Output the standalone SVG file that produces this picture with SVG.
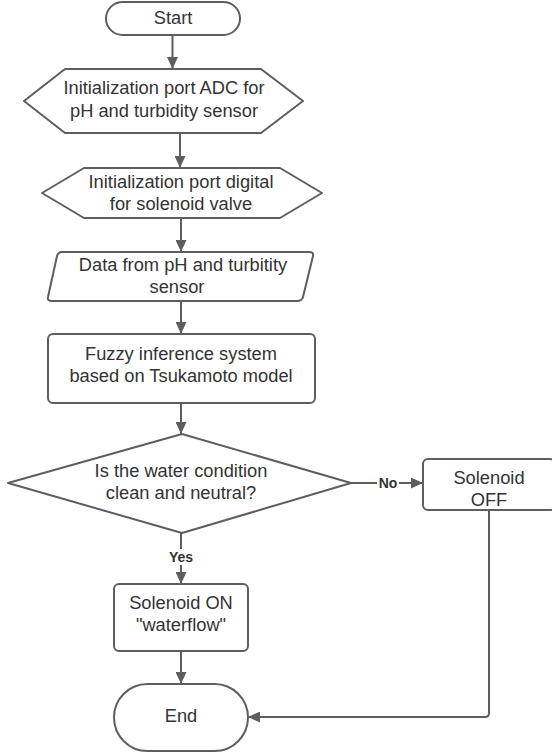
<svg xmlns="http://www.w3.org/2000/svg" width="552" height="754" viewBox="0 0 552 754">
<style>
.shape{fill:#ffffff;stroke:#5e5e5e;stroke-width:2;stroke-linejoin:round}
.t{font-family:"Liberation Sans",Arial,sans-serif;font-size:18.3px;fill:#333333;text-anchor:middle}
.lbl{font-family:"Liberation Sans",Arial,sans-serif;font-size:14px;font-weight:bold;fill:#333333;text-anchor:middle}
.conn{fill:none;stroke:#5e5e5e;stroke-width:2}
</style>
<defs>
<marker id="arrow" markerUnits="userSpaceOnUse" markerWidth="12" markerHeight="11" refX="12" refY="5.5" orient="auto">
<path d="M0,0 L12,5.5 L0,11 z" fill="#5e5e5e"/>
</marker>
</defs>
<rect width="552" height="754" fill="#ffffff"/>
<g id="connectors">
<path class="conn" d="M172.5,35 L172.5,69" marker-end="url(#arrow)"/>
<path class="conn" d="M180,133 L180,168" marker-end="url(#arrow)"/>
<path class="conn" d="M181,218 L181,252" marker-end="url(#arrow)"/>
<path class="conn" d="M181,301 L181,334" marker-end="url(#arrow)"/>
<path class="conn" d="M181,403 L181,434" marker-end="url(#arrow)"/>
<path class="conn" d="M351,483 L423,483" marker-end="url(#arrow)"/>
<rect x="377" y="475" width="22" height="16" fill="#ffffff"/>
<text class="lbl" x="388" y="488">No</text>
<path class="conn" d="M181,533 L181,584" marker-end="url(#arrow)"/>
<rect x="167" y="549" width="28" height="16" fill="#ffffff"/>
<text class="lbl" x="181" y="562">Yes</text>
<path class="conn" d="M181,651 L181,684" marker-end="url(#arrow)"/>
<path class="conn" d="M489,510 L489,713 Q489,717 485,717 L248,717" marker-end="url(#arrow)"/>
</g>
<g id="start">
<rect class="shape" x="106" y="2" width="134" height="33" rx="16.5"/>
<text class="t" x="173" y="23.5">Start</text>
</g>
<g id="init-adc">
<polygon class="shape" points="24,101 65,69 261,69 303,101 261,133 65,133"/>
<text class="t" x="164" y="94">Initialization port ADC for</text>
<text class="t" x="164" y="117">pH and turbidity sensor</text>
</g>
<g id="init-digital">
<polygon class="shape" points="42,193 84,168 280,168 322,193 280,218 84,218"/>
<text class="t" x="181" y="188">Initialization port digital</text>
<text class="t" x="181" y="210">for solenoid valve</text>
</g>
<g id="data">
<path class="shape" d="M62,252 L309,252 Q314,252 313,256 L303,297 Q302,301 297,301 L52,301 Q47,301 48,297 L57,256 Q58,252 62,252 Z"/>
<text class="t" x="183" y="271">Data from pH and turbitity</text>
<text class="t" x="177" y="293">sensor</text>
</g>
<g id="fuzzy">
<rect class="shape" x="48" y="334" width="267" height="69" rx="5"/>
<text class="t" x="181" y="360">Fuzzy inference system</text>
<text class="t" x="181" y="382">based on Tsukamoto model</text>
</g>
<g id="decision">
<polygon class="shape" points="182,434 351,483 182,533 8,483"/>
<text class="t" x="181" y="477">Is the water condition</text>
<text class="t" x="181" y="499">clean and neutral?</text>
</g>
<g id="solenoid-off">
<rect class="shape" x="423" y="459" width="132" height="51" rx="5"/>
<text class="t" x="489" y="484">Solenoid</text>
<text class="t" x="489" y="506">OFF</text>
</g>
<g id="solenoid-on">
<rect class="shape" x="114" y="584" width="134" height="67" rx="5"/>
<text class="t" x="181" y="609">Solenoid ON</text>
<text class="t" x="181" y="631">"waterflow"</text>
</g>
<g id="end">
<rect class="shape" x="114" y="684" width="134" height="67" rx="33.5"/>
<text class="t" x="181" y="721.5">End</text>
</g>
</svg>
